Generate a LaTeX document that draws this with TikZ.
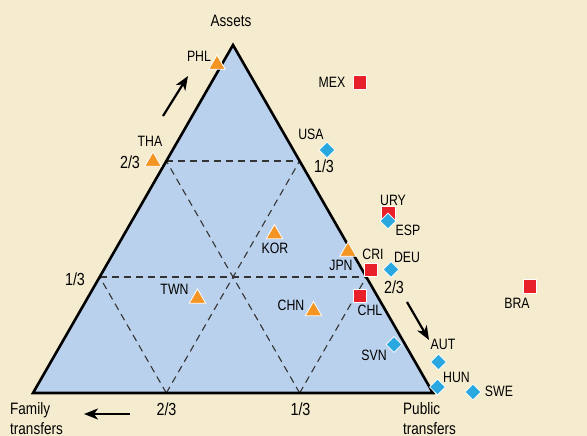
\documentclass[tikz,border=0pt]{standalone}
\usepackage{fontspec}
\setmainfont{Liberation Sans}[FakeStretch=0.82]
\usetikzlibrary{shapes.geometric,calc,arrows.meta}

\definecolor{sfondo}{HTML}{F5ECCF}
\definecolor{azzurro}{HTML}{B9D1EC}
\definecolor{arancio}{HTML}{F39423}
\definecolor{rosso}{HTML}{E8202A}
\definecolor{blu}{HTML}{29A8E0}

\tikzset{
  tri/.style={regular polygon, regular polygon sides=3, fill=arancio, draw=white,
    line width=0.8pt, minimum size=19pt, inner sep=0pt},
  quad/.style={rectangle, fill=rosso, draw=white, line width=0.8pt,
    minimum size=13.5pt, inner sep=0pt},
  rombo/.style={diamond, fill=blu, draw=white, line width=0.8pt,
    minimum width=16pt, minimum height=16pt, inner sep=0pt},
  paese/.style={font=\fontsize{15}{16}\selectfont, inner sep=0pt},
  frazione/.style={font=\fontsize{17.5}{18}\selectfont, inner sep=0pt},
  asse/.style={font=\fontsize{16.5}{20}\selectfont, inner sep=0pt, align=left},
  griglia/.style={dash pattern=on 7pt off 5pt, line width=1.1pt, black!80},
  freccia/.style={-{Stealth[length=14pt,width=11pt,inset=4pt]}, line width=2.2pt}
}

\begin{document}
\begin{tikzpicture}[x=1pt,y=-1pt]
        % Sfondo
        \fill[sfondo] (0,0) rectangle (587,436);
        \useasboundingbox (0,0) rectangle (587,436);

        % Vertici del triangolo
        \coordinate (A) at (233,45);
        \coordinate (L) at (33,393);
        \coordinate (R) at (433,393);

        % Punti a 1/3 e 2/3 sui lati
        \coordinate (b1) at ($(L)!1/3!(R)$);
        \coordinate (b2) at ($(L)!2/3!(R)$);
        \coordinate (l1) at ($(L)!1/3!(A)$);
        \coordinate (l2) at ($(L)!2/3!(A)$);
        \coordinate (r1) at ($(R)!1/3!(A)$);
        \coordinate (r2) at ($(R)!2/3!(A)$);

        % Disegna il triangolo
        \fill[azzurro] (A) -- (L) -- (R) -- cycle;

        % Disegna la griglia
        \draw[griglia] (l1) -- (r1);
        \draw[griglia] (l2) -- (r2);
        \draw[griglia] (b1) -- (l1);
        \draw[griglia] (b2) -- (l2);
        \draw[griglia] (b1) -- (r2);
        \draw[griglia] (b2) -- (r1);

        \draw[line width=2.6pt, line join=miter] (A) -- (L) -- (R) -- cycle;

        % Etichette degli assi
        \node[asse] (assets) at (231,21) {Assets};
        \node[asse, anchor=north west] (family) at (10,402) {Family\\transfers};
        \node[asse, anchor=north west] (public) at (403,402) {Public\\transfers};

        % Frazioni
        \node[frazione] (fl1) at (75,279) {1/3};
        \node[frazione] (fl2) at (130,162) {2/3};
        \node[frazione] (fr1) at (324,166) {1/3};
        \node[frazione] (fr2) at (394,287) {2/3};
        \node[frazione] (fb2) at (166.5,409.5) {2/3};
        \node[frazione] (fb1) at (300.5,409.5) {1/3};

        % Frecce
        \coordinate (su0) at (163,116);
        \coordinate (su1) at (188,76);
        \coordinate (giu0) at (407,302);
        \coordinate (giu1) at (429,340);
        \coordinate (sx0) at (130,414);
        \coordinate (sx1) at (84,414);
        \draw[freccia] (su0) -- (su1);
        \draw[freccia] (giu0) -- (giu1);
        \draw[freccia] (sx0) -- (sx1);

        % Quadrati rossi
        \node[quad] (mex) at (360,82.5) {};
        \node[quad] (ury) at (388.5,213.5) {};
        \node[quad] (cri) at (371,270) {};
        \node[quad] (chl) at (360,296) {};
        \node[quad] (bra) at (530,286.5) {};

        % Rombi blu
        \node[rombo] (usa) at (327,150) {};
        \node[rombo] (esp) at (388,221) {};
        \node[rombo] (deu) at (391,269.5) {};
        \node[rombo] (svn) at (394,344.5) {};
        \node[rombo] (aut) at (438.5,362) {};
        \node[rombo] (hun) at (437.5,387) {};
        \node[rombo] (swe) at (473,392) {};

        % Triangoli arancioni
        \node[tri] (phl) at (217,64.5) {};
        \node[tri] (tha) at (153,161.5) {};
        \node[tri] (kor) at (274.5,234) {};
        \node[tri] (twn) at (197.5,298.5) {};
        \node[tri] (chn) at (313.5,311) {};
        \node[tri] (jpn) at (348,251.5) {};

        % Nomi dei paesi
        \node[paese] (tphl) at (199,56) {PHL};
        \node[paese] (ttha) at (150,141.5) {THA};
        \node[paese] (tkor) at (275,248.5) {KOR};
        \node[paese] (ttwn) at (174.5,289.5) {TWN};
        \node[paese] (tchn) at (291,305.5) {CHN};
        \node[paese] (tjpn) at (341,265) {JPN};
        \node[paese] (tmex) at (332,82.5) {MEX};
        \node[paese] (tury) at (393,200) {URY};
        \node[paese] (tcri) at (373,254.5) {CRI};
        \node[paese] (tchl) at (370,310.5) {CHL};
        \node[paese] (tbra) at (517,303.5) {BRA};
        \node[paese] (tusa) at (311,134) {USA};
        \node[paese] (tesp) at (408,230.5) {ESP};
        \node[paese] (tdeu) at (407,257.5) {DEU};
        \node[paese] (tsvn) at (374,355.5) {SVN};
        \node[paese] (taut) at (443,344.5) {AUT};
        \node[paese] (thun) at (456.5,377.5) {HUN};
        \node[paese] (tswe) at (499,391.5) {SWE};
    \end{tikzpicture}
\end{document}
